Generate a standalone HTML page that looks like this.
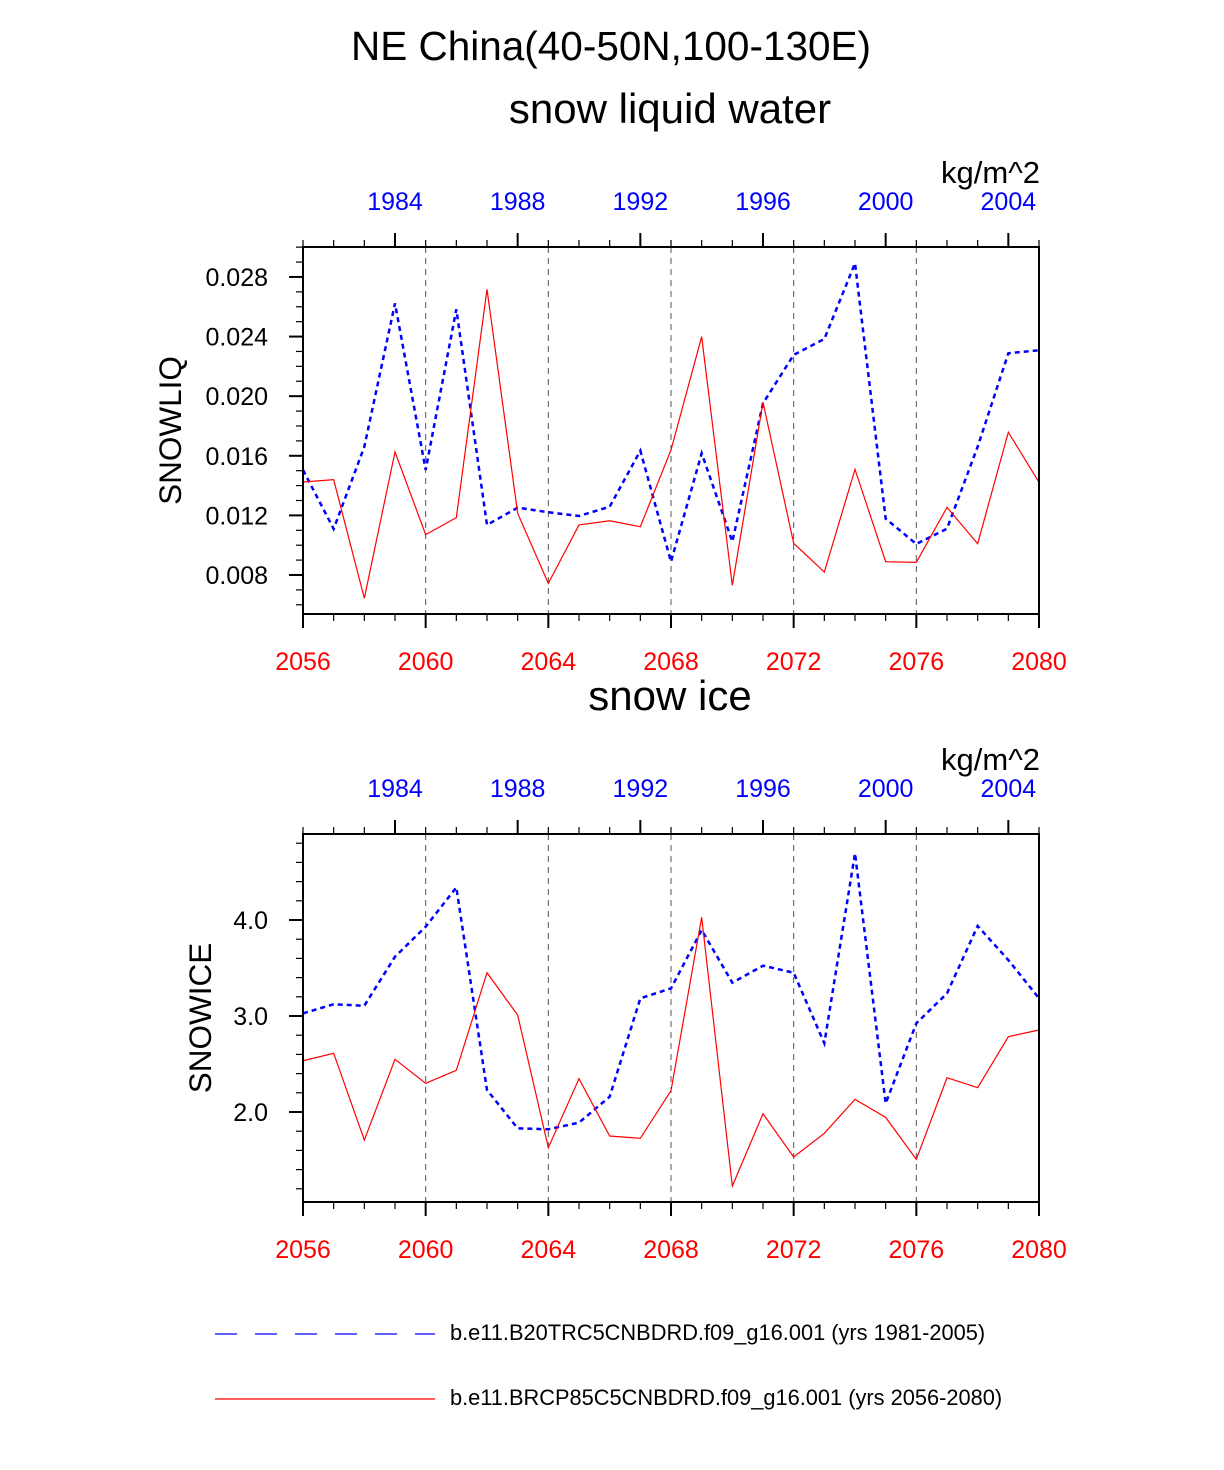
<!DOCTYPE html>
<html><head><meta charset="utf-8"><style>
body{margin:0;background:#fff}
svg{display:block;font-family:"Liberation Sans",Arial,sans-serif}
</style></head><body>
<svg id="chart" width="1224" height="1470" viewBox="0 0 1224 1470" xmlns="http://www.w3.org/2000/svg">
<text x="611" y="60" font-size="40.5" text-anchor="middle">NE China(40-50N,100-130E)</text>
<g id="p1"></g>
<g id="p2"></g>
<g>
<line x1="215" y1="1334" x2="435" y2="1334" stroke="#00f" stroke-width="1.2" stroke-dasharray="22,18"/>
<text x="450" y="1340" font-size="21.8">b.e11.B20TRC5CNBDRD.f09_g16.001 (yrs 1981-2005)</text>
<line x1="215" y1="1399" x2="435" y2="1399" stroke="#f00" stroke-width="1.2"/>
<text x="450" y="1405" font-size="21.8">b.e11.BRCP85C5CNBDRD.f09_g16.001 (yrs 2056-2080)</text>
</g>
</svg>
<script>
const years=[2056,2057,2058,2059,2060,2061,2062,2063,2064,2065,2066,2067,2068,2069,2070,2071,2072,2073,2074,2075,2076,2077,2078,2079,2080];
const topYearLabels=[1984,1988,1992,1996,2000,2004];
const bottomYearLabels=[2056,2060,2064,2068,2072,2076,2080];
const liqRed=[0.01424,0.01440,0.00644,0.01626,0.01071,0.01185,0.02717,0.01214,0.00744,0.01136,0.01164,0.01124,0.01639,0.02399,0.00731,0.01959,0.01013,0.00820,0.01509,0.00889,0.00885,0.01254,0.01010,0.01758,0.01422];
const liqBlue=[0.01505,0.01109,0.01661,0.02623,0.01505,0.02583,0.01136,0.01252,0.01221,0.01196,0.01258,0.01634,0.00889,0.01617,0.01024,0.01952,0.02277,0.02384,0.02892,0.01178,0.01008,0.01111,0.01661,0.02288,0.02308];
const iceRed=[2.534,2.611,1.708,2.549,2.299,2.434,3.451,3.010,1.628,2.347,1.750,1.726,2.222,4.028,1.229,1.982,1.531,1.778,2.132,1.944,1.507,2.357,2.253,2.785,2.854];
const iceBlue=[3.028,3.122,3.107,3.618,3.930,4.340,2.229,1.830,1.820,1.889,2.160,3.184,3.288,3.896,3.347,3.524,3.451,2.716,4.695,2.090,2.924,3.236,3.938,3.583,3.184];
const liqTicks=[0.008,0.012,0.016,0.020,0.024,0.028];
const iceTicks=[2.0,3.0,4.0];
const NS="http://www.w3.org/2000/svg";
function mk(parent,tag,attrs,txt){const e=document.createElementNS(NS,tag);for(const k in attrs)e.setAttribute(k,attrs[k]);if(txt!==undefined)e.textContent=txt;parent.appendChild(e);return e;}
function panel(g,top,bottom,ymin,ymax,red,blue,yticks,minorStep,dec,ytitle,sub,titleX){
  const L=303,R=1039;
  const x=v=>L+(v-2056)/24*(R-L);
  const y=v=>bottom-(v-ymin)/(ymax-ymin)*(bottom-top);
  const st=mk(g,'text',{x:670,y:top-124,'font-size':42,'text-anchor':'middle'},sub);
  
  
  const u=mk(g,'text',{x:1040,y:top-64,'font-size':31,'text-anchor':'end'},'kg/m^2');
  
  
  for(let yr=2060;yr<=2076;yr+=4){const l=mk(g,'line',{x1:x(yr),x2:x(yr),y1:top,y2:bottom,stroke:'#555','stroke-width':1,'stroke-dasharray':'6,5'});
    
    }
  for(let yr=2056;yr<=2080;yr++){const maj=(yr-2056)%4===0;
    const b=mk(g,'line',{x1:x(yr),x2:x(yr),y1:bottom,y2:bottom+(maj?14:7),stroke:'#000','stroke-width':maj?2:1.2});
    
    
    const tmaj=(yr-2059)%4===0;
    const t=mk(g,'line',{x1:x(yr),x2:x(yr),y1:top,y2:top-(tmaj?14:7),stroke:'#000','stroke-width':tmaj?2:1.2});
    
    }
  bottomYearLabels.forEach(v=>{const t=mk(g,'text',{x:x(v),y:bottom+56,'font-size':25,'text-anchor':'middle',fill:'#f00'},v);
    
    });
  topYearLabels.forEach(v=>{const t=mk(g,'text',{x:x(v+75),y:top-37,'font-size':25,'text-anchor':'middle',fill:'#00f'},v);
    
    });
  const n0=Math.ceil(ymin/minorStep-1e-6),n1=Math.floor(ymax/minorStep+1e-6);
  for(let i=n0;i<=n1;i++){const v=i*minorStep;const maj=yticks.some(t=>Math.abs(t-v)<minorStep/10);
    const tk=mk(g,'line',{x1:L,x2:L-(maj?14:7),y1:y(v),y2:y(v),stroke:'#000','stroke-width':maj?2:1.2});
    
    }
  yticks.forEach(v=>{const t=mk(g,'text',{x:L-35,y:y(v)+9,'font-size':25,'text-anchor':'end'},v.toFixed(dec));
    
    });
  const yt=mk(g,'text',{x:0,y:0,'font-size':31.5,'text-anchor':'middle',transform:`translate(${titleX},${(top+bottom)/2}) rotate(-90)`},ytitle);
  
  
  const pb=mk(g,'polyline',{points:blue.map((v,i)=>x(years[i])+','+y(v)).join(' '),fill:'none',stroke:'#00f','stroke-width':2.5,'stroke-dasharray':'5,4'});
  
  
  const pr=mk(g,'polyline',{points:red.map((v,i)=>x(years[i])+','+y(v)).join(' '),fill:'none',stroke:'#f00','stroke-width':1.2});
  
  
  const fr=mk(g,'rect',{x:L,y:top,width:R-L,height:bottom-top,fill:'none',stroke:'#000','stroke-width':2});
  
  
}
panel(document.getElementById('p1'),247,614,0.005383,0.03001,liqRed,liqBlue,liqTicks,0.001,3,'SNOWLIQ','snow liquid water',181);
panel(document.getElementById('p2'),834,1202,1.0625,4.896,iceRed,iceBlue,iceTicks,0.2,1,'SNOWICE','snow ice',211);
</script>
</body></html>
